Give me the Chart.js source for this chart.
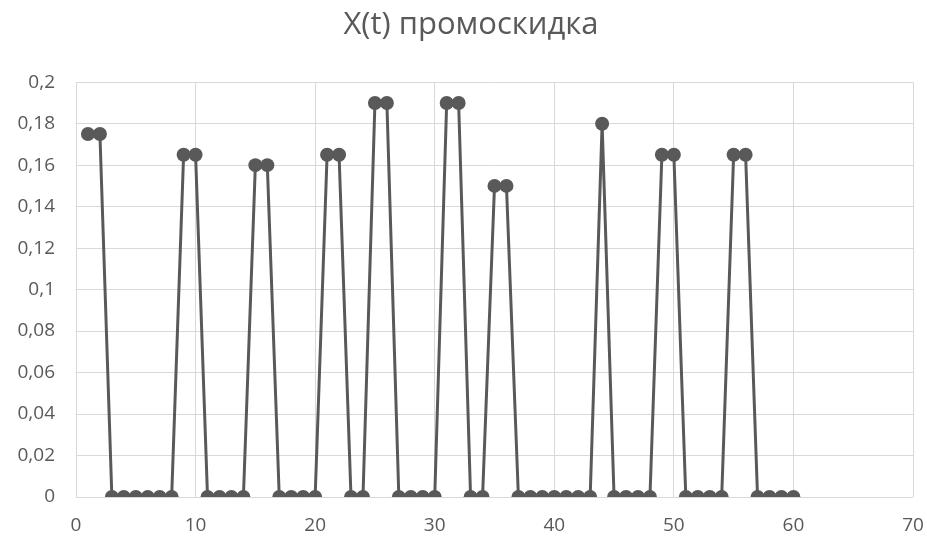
<!DOCTYPE html>
<html>
<head>
<meta charset="utf-8">
<script src="https://cdn.jsdelivr.net/npm/chart.js@4.4.1/dist/chart.umd.min.js"></script>
<style>
  html, body { margin: 0; padding: 0; background: #ffffff; }
  #wrap { width: 927px; height: 538px; }
</style>
</head>
<body>
<div id="wrap"><canvas id="c" width="927" height="538"></canvas></div>
<script>
// Period index t and the promo-discount value X(t)
const periods = [
  1, 2, 3, 4, 5, 6, 7, 8, 9, 10,
  11, 12, 13, 14, 15, 16, 17, 18, 19, 20,
  21, 22, 23, 24, 25, 26, 27, 28, 29, 30,
  31, 32, 33, 34, 35, 36, 37, 38, 39, 40,
  41, 42, 43, 44, 45, 46, 47, 48, 49, 50,
  51, 52, 53, 54, 55, 56, 57, 58, 59, 60
];
const discount = [
  0.175, 0.175, 0, 0, 0, 0, 0, 0, 0.165, 0.165,
  0, 0, 0, 0, 0.16, 0.16, 0, 0, 0, 0,
  0.165, 0.165, 0, 0, 0.19, 0.19, 0, 0, 0, 0,
  0.19, 0.19, 0, 0, 0.15, 0.15, 0, 0, 0, 0,
  0, 0, 0, 0.18, 0, 0, 0, 0, 0.165, 0.165,
  0, 0, 0, 0, 0.165, 0.165, 0, 0, 0, 0
];
const chartTitle = 'X(t) промоскидка';

const ink = '#595959';
const gridColor = '#d9d9d9';
const fontFamily = '"Open Sans", "Noto Sans", sans-serif';

const points = periods.map((t, i) => ({ x: t, y: discount[i] }));

function commaDecimal(v) {
  const s = parseFloat(Number(v).toFixed(4)).toString();
  return s.replace('.', ',');
}

// Nudge the title block right so it sits a little off the canvas centre
const titleShift = {
  id: 'titleShift',
  afterLayout(chart) {
    if (chart.titleBlock) {
      chart.titleBlock.left += 29;
    }
  }
};

new Chart(document.getElementById('c'), {
  type: 'scatter',
  data: {
    datasets: [{
      data: points,
      showLine: true,
      borderColor: ink,
      backgroundColor: ink,
      borderWidth: 3,
      pointRadius: 7,
      pointHoverRadius: 7,
      pointBorderWidth: 0,
      tension: 0
    }]
  },
  plugins: [titleShift],
  options: {
    responsive: false,
    animation: false,
    layout: { padding: { left: 0, right: 14, top: 0, bottom: 0 } },
    plugins: {
      legend: { display: false },
      tooltip: { enabled: false },
      title: {
        display: true,
        text: chartTitle,
        color: ink,
        font: { family: fontFamily, size: 31, weight: 'normal', lineHeight: 1.2 },
        padding: { top: 7, bottom: 38 }
      }
    },
    scales: {
      x: {
        type: 'linear',
        min: 0,
        max: 70,
        ticks: {
          stepSize: 10,
          color: ink,
          font: { family: fontFamily, size: 19, lineHeight: 2.74 },
          padding: 3
        },
        grid: { color: gridColor, lineWidth: 1, drawTicks: false },
        border: { display: false },
        afterFit: (s) => { s.height = 41; }
      },
      y: {
        min: 0,
        max: 0.2,
        ticks: {
          stepSize: 0.02,
          color: ink,
          font: { family: fontFamily, size: 19 },
          padding: 21,
          callback: (v) => commaDecimal(v)
        },
        grid: { color: gridColor, lineWidth: 1, drawTicks: false },
        border: { display: false },
        afterFit: (s) => { s.width = 76; }
      }
    }
  }
});
</script>
</body>
</html>
